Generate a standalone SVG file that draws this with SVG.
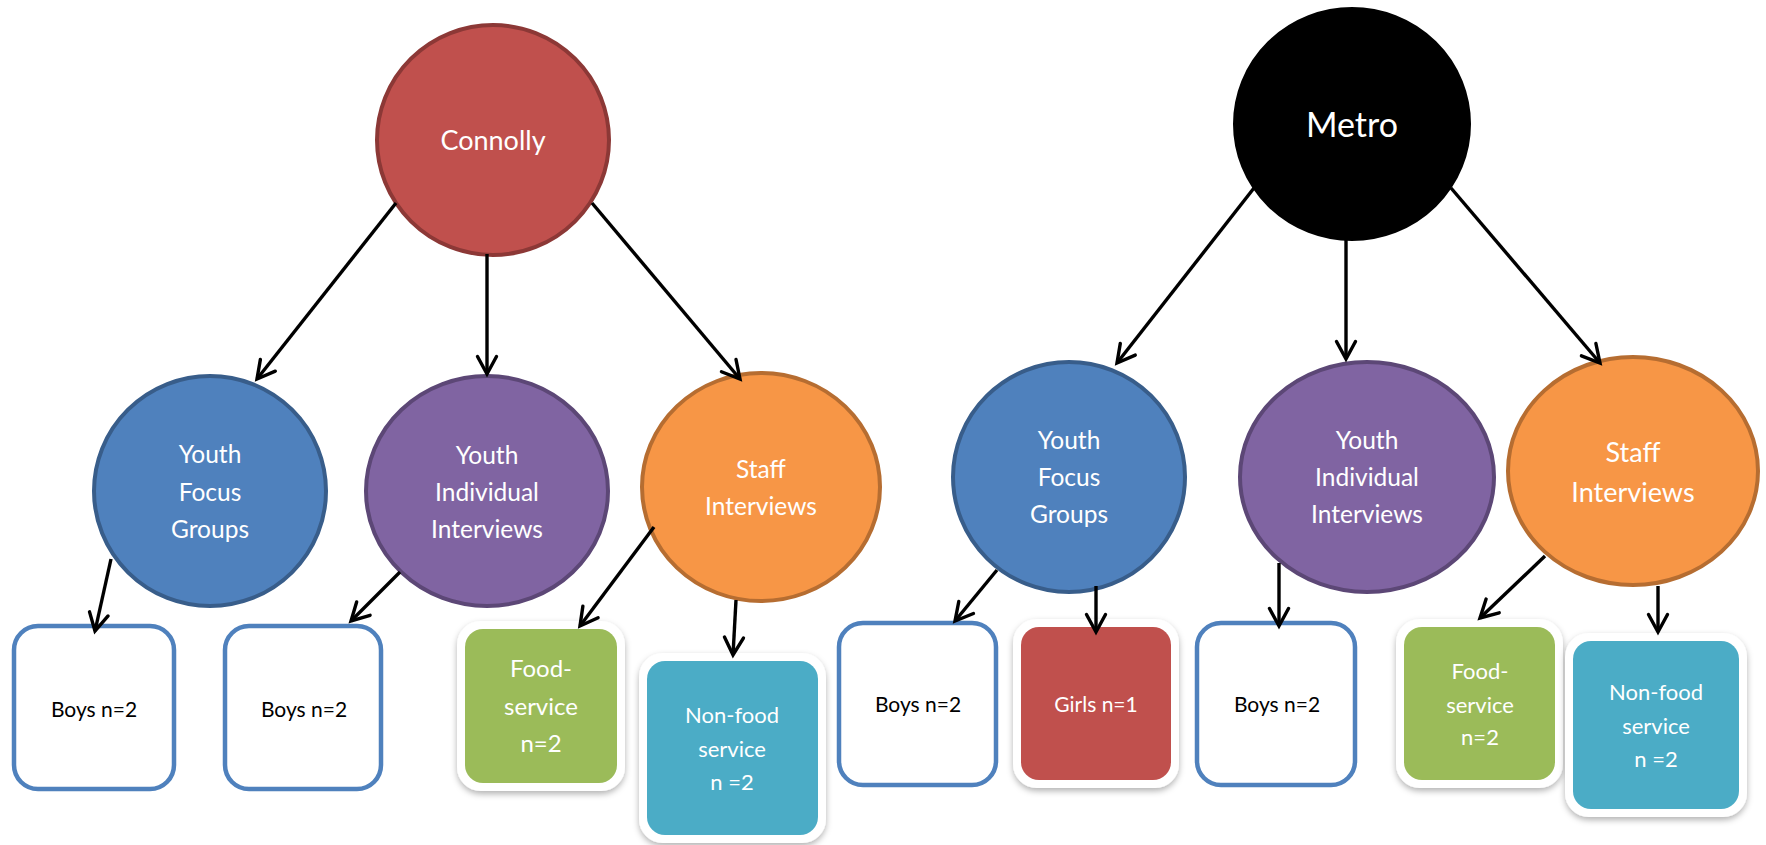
<svg xmlns="http://www.w3.org/2000/svg" width="1766" height="845" viewBox="0 0 1766 845">
  <style>
    text { font-family: Lato, "Open Sans", "Liberation Sans", sans-serif; text-anchor: middle; }
    .w { fill: #ffffff; }
    .k { fill: #000000; }
    .t25 { font-size: 24.5px; }
    .t27 { font-size: 27px; }
    .t21 { font-size: 21px; }
    .t22 { font-size: 22px; }
    .red { fill: #C0504D; stroke: #8C3836; stroke-width: 4; }
    .blk { fill: #000000; stroke: #000000; stroke-width: 4; }
    .blue { fill: #4F81BD; stroke: #385D8A; stroke-width: 4; }
    .purple { fill: #8064A2; stroke: #5C4776; stroke-width: 4; }
    .orange { fill: #F79646; stroke: #B66D31; stroke-width: 4; }
    .outline { fill: #ffffff; stroke: #4F81BD; stroke-width: 4.5; }
    .rim { fill: #ffffff; filter: url(#shadow); }
    .green { fill: #9BBB59; }
    .teal { fill: #4BACC6; }
    .redbox { fill: #C0504D; }
    .conn line { stroke: #000000; stroke-width: 3.4; marker-end: url(#vhead); }
  </style>
  <defs>
    <filter id="shadow" x="-10%" y="-10%" width="120%" height="125%">
      <feDropShadow dx="0" dy="3" stdDeviation="3" flood-color="#000000" flood-opacity="0.3"/>
    </filter>
    <marker id="vhead" markerUnits="userSpaceOnUse" viewBox="0 0 24 24" markerWidth="24" markerHeight="24" refX="20" refY="12" orient="auto" overflow="visible">
      <path d="M2.5 2.5 L20 12 L2.5 21.5" fill="none" stroke="#000000" stroke-width="3.4" stroke-linecap="round" stroke-linejoin="miter"/>
    </marker>
  </defs>

  <!-- Connolly tree -->
  <g id="connolly">
    <ellipse class="red" cx="493" cy="140" rx="116" ry="115"/>
    <text class="w" x="493" y="150" style="font-size:27px">Connolly</text>
  </g>
  <g id="c-focus">
    <ellipse class="blue" cx="210" cy="491" rx="116" ry="115"/>
    <text class="w t25" x="210"><tspan x="210" y="463">Youth</tspan><tspan x="210" y="501">Focus</tspan><tspan x="210" y="538">Groups</tspan></text>
  </g>
  <g id="c-individual">
    <ellipse class="purple" cx="487" cy="491" rx="121" ry="115"/>
    <text class="w t25" x="487"><tspan x="487" y="464">Youth</tspan><tspan x="487" y="501">Individual</tspan><tspan x="487" y="538">Interviews</tspan></text>
  </g>
  <g id="c-staff">
    <ellipse class="orange" cx="761" cy="487" rx="119" ry="114"/>
    <text class="w t25" x="761"><tspan x="761" y="478">Staff</tspan><tspan x="761" y="515">Interviews</tspan></text>
  </g>
  <g id="c-focus-boys">
    <rect class="outline" x="14" y="626" width="160" height="163" rx="24"/>
    <text class="k t21" x="94" y="717">Boys n=2</text>
  </g>
  <g id="c-individual-boys">
    <rect class="outline" x="225" y="626" width="156" height="163" rx="24"/>
    <text class="k t21" x="304" y="717">Boys n=2</text>
  </g>
  <g id="c-food">
    <rect class="rim" x="457" y="621" width="168" height="170" rx="24"/>
    <rect class="green" x="465" y="629" width="152" height="154" rx="18"/>
    <text class="w" x="541" style="font-size:24px"><tspan x="541" y="677">Food-</tspan><tspan x="541" y="715">service</tspan><tspan x="541" y="752">n=2</tspan></text>
  </g>
  <g id="c-nonfood">
    <rect class="rim" x="639" y="653" width="187" height="190" rx="24"/>
    <rect class="teal" x="647" y="661" width="171" height="174" rx="18"/>
    <text class="w t22" x="732"><tspan x="732" y="723">Non-food</tspan><tspan x="732" y="757">service</tspan><tspan x="732" y="790">n =2</tspan></text>
  </g>

  <!-- Metro tree -->
  <g id="metro">
    <ellipse class="blk" cx="1352" cy="124" rx="117" ry="115"/>
    <text class="w" x="1352" y="137" style="font-size:34px">Metro</text>
  </g>
  <g id="m-focus">
    <ellipse class="blue" cx="1069" cy="477" rx="116" ry="115"/>
    <text class="w t25" x="1069"><tspan x="1069" y="449">Youth</tspan><tspan x="1069" y="486">Focus</tspan><tspan x="1069" y="523">Groups</tspan></text>
  </g>
  <g id="m-individual">
    <ellipse class="purple" cx="1367" cy="477" rx="127" ry="115"/>
    <text class="w t25" x="1367"><tspan x="1367" y="449">Youth</tspan><tspan x="1367" y="486">Individual</tspan><tspan x="1367" y="523">Interviews</tspan></text>
  </g>
  <g id="m-staff">
    <ellipse class="orange" cx="1633" cy="471" rx="125" ry="114"/>
    <text class="w t27" x="1633"><tspan x="1633" y="462">Staff</tspan><tspan x="1633" y="502">Interviews</tspan></text>
  </g>
  <g id="m-focus-boys">
    <rect class="outline" x="839" y="623" width="157" height="162" rx="24"/>
    <text class="k t21" x="918" y="712">Boys n=2</text>
  </g>
  <g id="m-focus-girls">
    <rect class="rim" x="1013" y="619" width="166" height="169" rx="24"/>
    <rect class="redbox" x="1021" y="627" width="150" height="153" rx="18"/>
    <text class="w t21" x="1096" y="712">Girls n=1</text>
  </g>
  <g id="m-individual-boys">
    <rect class="outline" x="1197" y="623" width="158" height="162" rx="24"/>
    <text class="k t21" x="1277" y="712">Boys n=2</text>
  </g>
  <g id="m-food">
    <rect class="rim" x="1396" y="619" width="167" height="169" rx="24"/>
    <rect class="green" x="1404" y="627" width="151" height="153" rx="18"/>
    <text class="w t22" x="1480"><tspan x="1480" y="679">Food-</tspan><tspan x="1480" y="713">service</tspan><tspan x="1480" y="745">n=2</tspan></text>
  </g>
  <g id="m-nonfood">
    <rect class="rim" x="1565" y="633" width="182" height="184" rx="24"/>
    <rect class="teal" x="1573" y="641" width="166" height="168" rx="18"/>
    <text class="w t22" x="1656"><tspan x="1656" y="700">Non-food</tspan><tspan x="1656" y="734">service</tspan><tspan x="1656" y="767">n =2</tspan></text>
  </g>

  <!-- Connectors -->
  <g id="connectors" class="conn">
    <line x1="396" y1="203" x2="257" y2="379"/>
    <line x1="487" y1="254" x2="487" y2="374"/>
    <line x1="592" y1="203" x2="740" y2="379"/>
    <line x1="1254" y1="188" x2="1117" y2="363"/>
    <line x1="1346" y1="240" x2="1346" y2="359"/>
    <line x1="1451" y1="188" x2="1600" y2="363"/>
    <line x1="111" y1="559" x2="95" y2="631"/>
    <line x1="400" y1="572" x2="351" y2="621"/>
    <line x1="654" y1="527" x2="580" y2="626"/>
    <line x1="736" y1="600" x2="733" y2="655"/>
    <line x1="997" y1="570" x2="955" y2="621"/>
    <line x1="1096" y1="586" x2="1096" y2="632"/>
    <line x1="1279" y1="563" x2="1279" y2="626"/>
    <line x1="1545" y1="556" x2="1480" y2="618"/>
    <line x1="1658" y1="586" x2="1658" y2="632"/>
  </g>
</svg>
